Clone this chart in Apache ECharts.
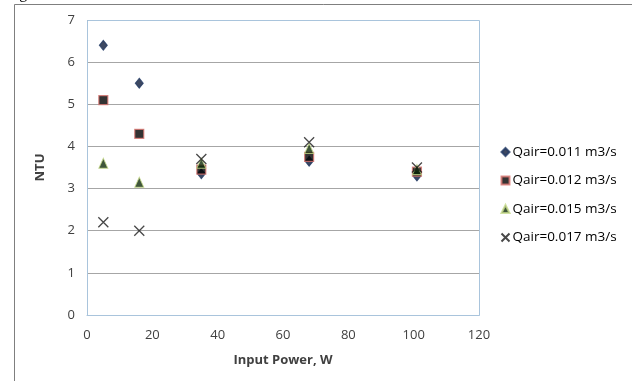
<!DOCTYPE html>
<html><head><meta charset="utf-8">
<script src="https://cdn.jsdelivr.net/npm/echarts@6/dist/echarts.min.js"></script>
<style>html,body{margin:0;padding:0;background:#fff;}#c{width:632px;height:381px;}</style>
</head><body><div id="c"></div>
<script>
var seriesNames = ['Qair=0.011 m3/s', 'Qair=0.012 m3/s', 'Qair=0.015 m3/s', 'Qair=0.017 m3/s'];
var power = [5, 16, 35, 68, 101];
var ntu011 = [6.4, 5.5, 3.35, 3.65, 3.3];
var ntu012 = [5.1, 4.3, 3.45, 3.75, 3.4];
var ntu015 = [3.6, 3.15, 3.6, 3.95, 3.45];
var ntu017 = [2.2, 2.0, 3.7, 4.1, 3.5];
var xTicks = [0, 20, 40, 60, 80, 100, 120];
var yTicks = [0, 1, 2, 3, 4, 5, 6, 7];

function pairs(ys){ return power.map(function(x,i){ return [x, ys[i]]; }); }
var font = 'Open Sans, Liberation Sans, sans-serif';
var chart = echarts.init(document.getElementById('c'), null, {renderer:'canvas'});
chart.setOption({
  animation:false,
  backgroundColor:'#fff',
  graphic:[
    {type:'rect', shape:{x:14.5, y:4.5, width:640, height:400}, style:{fill:'none', stroke:'#7f7f7f', lineWidth:1}},
    {type:'text', left:6, top:-14, style:{text:'Fig', font:'16px Liberation Serif', fill:'#000'}},
    {type:'rect', shape:{x:87.5, y:20.5, width:392, height:295}, style:{fill:'none', stroke:'#a9c4dc', lineWidth:1}, z:1}
  ],
  grid:{left:87, top:20, width:392, height:295, show:false},
  xAxis:{type:'value', min:0, max:120, interval:20,
    name:'Input Power, W', nameLocation:'middle', nameGap:39,
    nameTextStyle:{fontFamily:font, fontWeight:'bold', fontSize:13, color:'#404040'},
    axisLine:{show:true, lineStyle:{color:'#a9c4dc'}}, axisTick:{show:false},
    axisLabel:{fontFamily:font, fontSize:13, color:'#404040', margin:14},
    splitLine:{show:false}},
  yAxis:{type:'value', min:0, max:7, interval:1,
    name:'NTU', nameLocation:'middle', nameGap:40,
    nameTextStyle:{fontFamily:font, fontWeight:'bold', fontSize:13, color:'#404040'},
    axisLine:{show:false}, axisTick:{show:false},
    axisLabel:{fontFamily:font, fontSize:13, color:'#404040', margin:12},
    splitLine:{show:true, lineStyle:{color:'#a6a6a6', width:1}}},
  legend:{orient:'vertical', left:494, top:140, itemGap:14.5, itemWidth:8, itemHeight:8,
    textStyle:{fontFamily:font, fontSize:13.5, color:'#000', padding:[0,0,0,-2]},
    data:seriesNames},
  series:[
    {name:seriesNames[0], type:'scatter', data:pairs(ntu011), symbol:'diamond', symbolSize:[8,10],
      itemStyle:{color:'#0d1a3a', borderColor:'#1f3864', borderWidth:1}, z:2},
    {name:seriesNames[1], type:'scatter', data:pairs(ntu012), symbol:'rect', symbolSize:9,
      itemStyle:{color:'#000', borderColor:'#d9746f', borderWidth:1.2}, z:3},
    {name:seriesNames[2], type:'scatter', data:pairs(ntu015), symbol:'triangle', symbolSize:[9,10],
      itemStyle:{color:'#0f2a0a', borderColor:'#c6d98a', borderWidth:1}, z:4},
    {name:seriesNames[3], type:'scatter', data:pairs(ntu017), symbol:'path://M0,0L10,10M10,0L0,10', symbolSize:10,
      itemStyle:{color:'none', borderColor:'#1a1a1a', borderWidth:1.3}, z:5}
  ]
});
</script></body></html>
